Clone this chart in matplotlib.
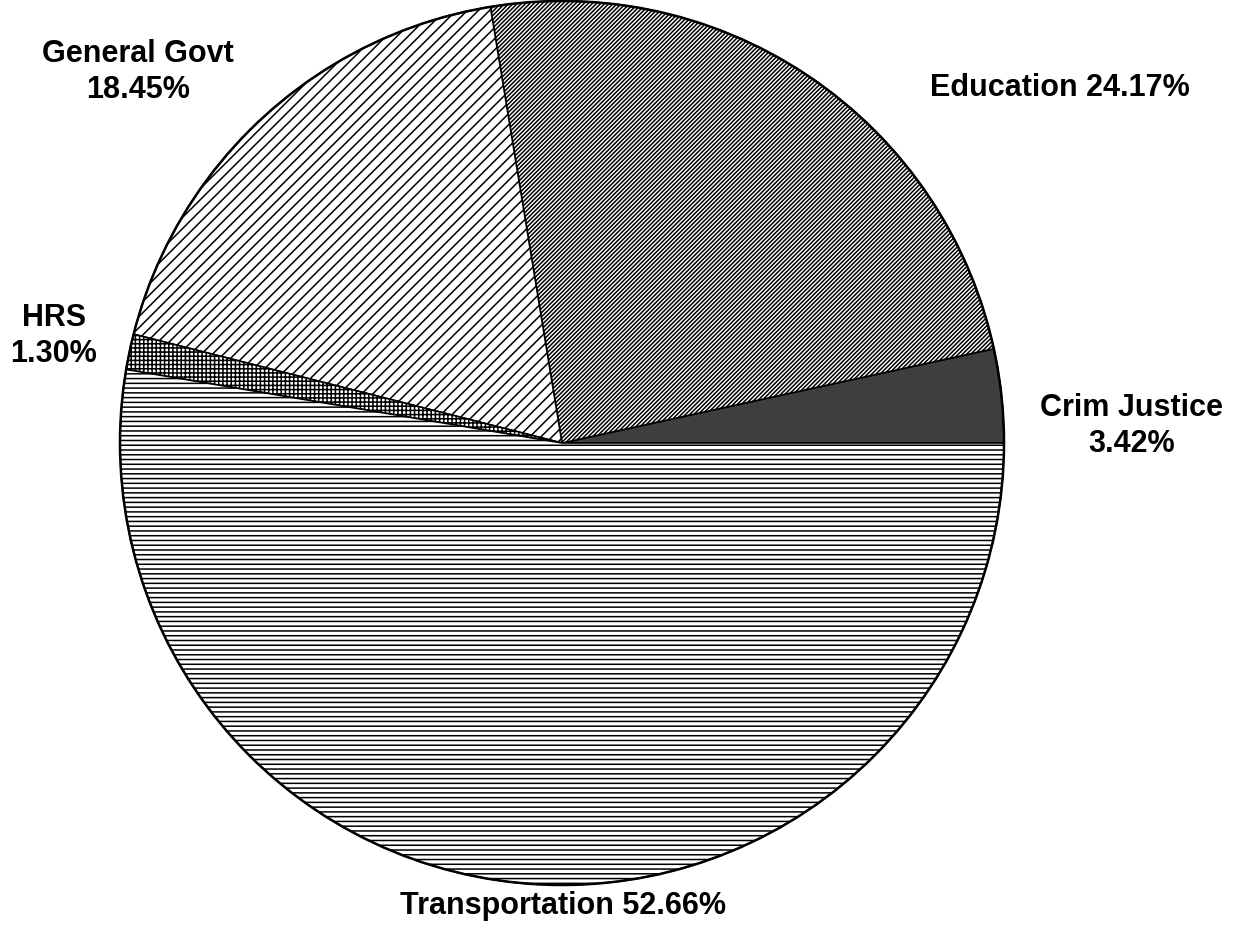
#!/usr/bin/env python3
"""Budget share pie chart, hatched like the printed original."""

import matplotlib

matplotlib.use("Agg")
import matplotlib.pyplot as plt

categories = ["Crim Justice", "Education", "General Govt", "HRS", "Transportation"]
shares = [3.42, 24.17, 18.45, 1.30, 52.66]

# label text layout: (x px, y px from top, text format)
label_layout = {
    "Crim Justice": (1132, 426, "{name}\n{pct}"),
    "Education": (1060, 88, "{name} {pct}"),
    "General Govt": (138, 72, "{name}\n{pct}"),
    "HRS": (54, 336, "{name}\n{pct}"),
    "Transportation": (563, 906, "{name} {pct}"),
}

W, H = 1242, 936
DPI = 200

plt.rcParams["hatch.linewidth"] = 0.55
plt.rcParams["font.family"] = ["Liberation Sans", "DejaVu Sans"]

fig = plt.figure(figsize=(W / DPI, H / DPI), dpi=DPI)
ax = fig.add_axes([0, 0, 1, 1])

# diagonal hatches space at 2*dpi/(6n) px, straight ones at dpi/(6n) px
hatches = ["", "/" * 16, "/" * 6, "+" * 8, "-" * 7]
colors = ["#3e3e3e", "white", "white", "white", "white"]

wedges, _ = ax.pie(
    shares,
    colors=colors,
    hatch=hatches,
    startangle=0,
    counterclock=True,
    center=(562, H - 443),
    radius=442,
    wedgeprops=dict(edgecolor="black", linewidth=0.6),
)

# heavier outer outline
outline = plt.Circle((562, H - 443), 442, fill=False, edgecolor="black", linewidth=0.9)
ax.add_patch(outline)

for name, share in zip(categories, shares):
    x, y, fmt = label_layout[name]
    ax.text(
        x,
        H - y,
        fmt.format(name=name, pct=f"{share:.2f}%"),
        ha="center",
        va="center",
        multialignment="center",
        fontsize=11,
        fontweight="bold",
        linespacing=1.25,
    )

ax.set_xlim(0, W)
ax.set_ylim(0, H)
ax.set_aspect("auto")
ax.axis("off")

fig.savefig("out.png", dpi=DPI)
plt.close(fig)
